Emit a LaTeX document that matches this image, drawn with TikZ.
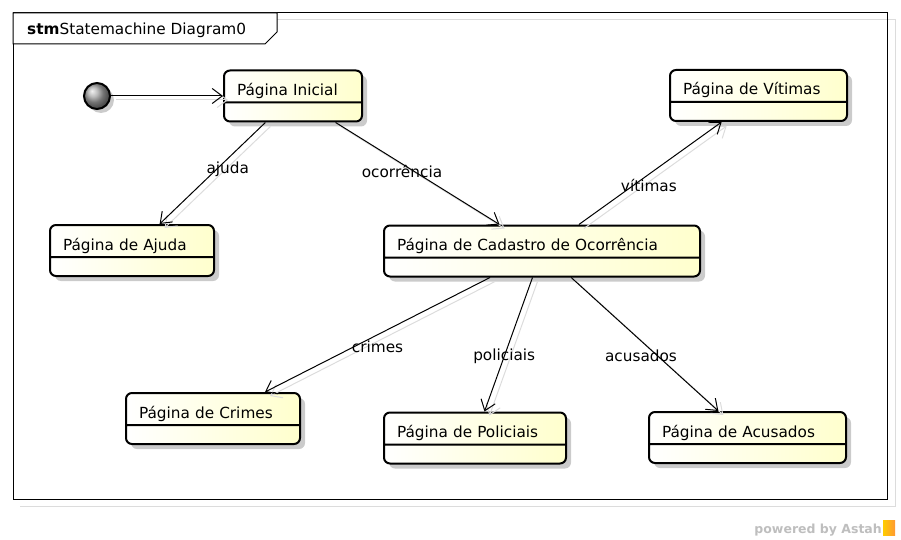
\documentclass[tikz,border=0pt]{standalone}
\usepackage{fontspec}
\setmainfont{DejaVu Sans}
\usetikzlibrary{arrows.meta,shapes.multipart,shadows}

\definecolor{stfill}{RGB}{255,255,205}
\definecolor{shadowgray}{RGB}{220,220,220}
\definecolor{astahgray}{RGB}{190,190,190}
\newcommand{\stmfont}{\fontsize{15.3}{17}\selectfont}

\tikzset{
  stbox/.style={rectangle split, rectangle split parts=2, draw, line width=2pt,
    rounded corners=6pt, inner xsep=13pt, inner ysep=4pt, align=left,
    text height=20pt, text depth=2pt,
    rectangle split empty part height=9pt, rectangle split empty part depth=0pt,
    left color=white, right color=stfill,
    drop shadow={shadow xshift=5pt, shadow yshift=-5pt, fill=black!45, opacity=.45},
    font=\stmfont},
  initst/.style={circle, draw, line width=2pt, minimum size=26pt, inner sep=0pt,
    ball color=gray!70,
    drop shadow={shadow xshift=4pt, shadow yshift=-4pt, fill=black!45, opacity=.45}},
  conn/.style={-{Straight Barb[length=10pt,width=15pt]}, line width=1pt},
  connshadow/.style={conn, draw=shadowgray, transform canvas={shift={(5pt,-4pt)}}},
  lbl/.style={font=\stmfont, inner sep=1pt}
}

\begin{document}
\begin{tikzpicture}[x=1pt,y=-1pt]
  \useasboundingbox (0,0) rectangle (901,540);

  % frame
  \draw[shadowgray, line width=1pt] (20,506) -- (895,506) -- (895,20) -- (277,20);
  \draw[line width=1pt] (13,13) rectangle (887,499);
  \draw[line width=1pt, fill=white] (13,13) -- (277,13) -- (277,32) -- (265,44) -- (13,44) -- cycle;
  \node[anchor=base west, font=\stmfont, inner sep=0pt] (title) at (27,35) {\textbf{stm}Statemachine Diagram0};

  % states
  \node[initst] (ini) at (97,96) {};
  \node[stbox, text width=112pt] (inicial) at (293,96) {Página Inicial};
  \node[stbox, text width=151pt] (vitimas) at (758.5,95.5) {Página de Vítimas};
  \node[stbox, text width=138pt] (ajuda) at (132,250.5) {Página de Ajuda};
  \node[stbox, text width=290pt] (cadastro) at (542,251) {Página de Cadastro de Ocorrência};
  \node[stbox, text width=148pt] (crimes) at (213,418.5) {Página de Crimes};
  \node[stbox, text width=156pt] (policiais) at (475,438) {Página de Policiais};
  \node[stbox, text width=171pt] (acusados) at (747.5,437.5) {Página de Acusados};

  % transitions
  \foreach \a/\b in {ini/inicial, inicial/ajuda, inicial/cadastro, cadastro/vitimas,
                     cadastro/crimes, cadastro/policiais, cadastro/acusados}
    \draw[connshadow] (\a) -- (\b);

  \draw[conn] (ini) -- (inicial);
  \draw[conn] (inicial) -- node[lbl, pos=.46, xshift=11pt] {ajuda} (ajuda);
  \draw[conn] (inicial) -- node[lbl, pos=.405, yshift=-8pt] {ocorrência} (cadastro);
  \draw[conn] (cadastro) -- node[lbl, pos=.49, yshift=-11pt] {vítimas} (vitimas);
  \draw[conn] (cadastro) -- node[lbl, pos=.5, yshift=-12pt] {crimes} (crimes);
  \draw[conn] (cadastro) -- node[lbl, pos=.59] {policiais} (policiais);
  \draw[conn] (cadastro) -- node[lbl, pos=.59, xshift=-17pt] {acusados} (acusados);

  % footer
  \node[anchor=base east, inner sep=0pt, text=astahgray,
        font=\fontsize{12.5}{14}\selectfont\bfseries] (powered) at (882,533) {powered by Astah};
  \fill[left color=yellow!60!orange, right color=orange!80] (883,520) rectangle (895,535);
\end{tikzpicture}
\end{document}
